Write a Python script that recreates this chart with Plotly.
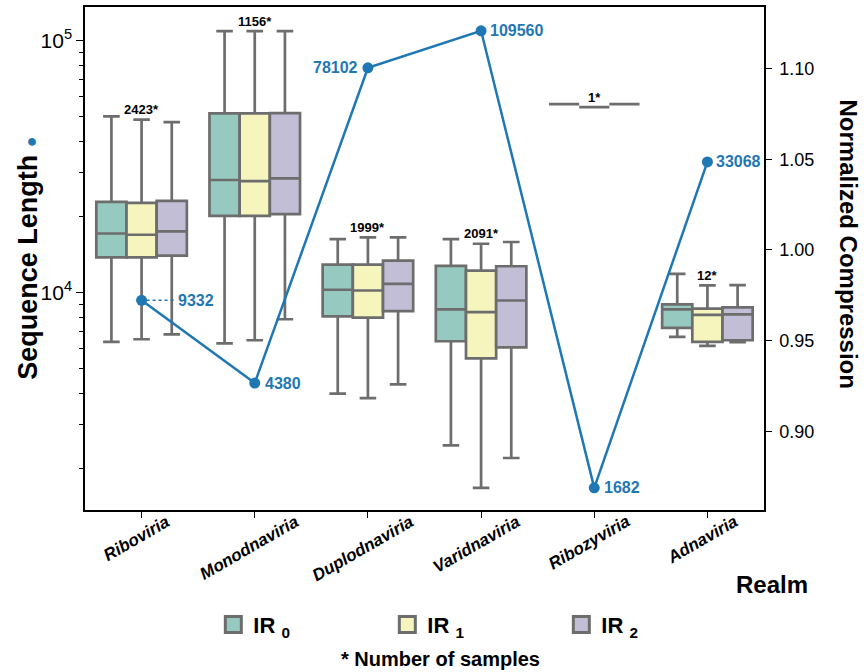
import numpy as np
import plotly.graph_objects as go

# Realms along the x axis
realms = ["Riboviria", "Monodnaviria", "Duplodnaviria", "Varidnaviria", "Ribozyviria", "Adnaviria"]
n_samples = [2423, 1156, 1999, 2091, 1, 12]

# Representative sequence length per realm (blue line)
seq_len = [9332, 4380, 78102, 109560, 1682, 33068]

# Box statistics of sequence length per inverted-repeat level
ir0_upper = [50100, 109200, 16340, 16340, 56050, 11890]
ir0_q3 = [22930, 51490, 12930, 12780, 56050, 8990]
ir0_median = [17190, 28020, 10280, 8590, 56050, 8590]
ir0_q1 = [13820, 20200, 8060, 6420, 56050, 7250]
ir0_lower = [6380, 6300, 3980, 2480, 56050, 6680]

ir1_upper = [48630, 109200, 16580, 15650, 54540, 10690]
ir1_q3 = [22730, 51490, 12930, 12250, 54540, 8650]
ir1_median = [16990, 27760, 10210, 8380, 54540, 8170]
ir1_q1 = [13820, 20200, 7970, 5490, 54540, 6380]
ir1_lower = [6540, 6480, 3820, 1683, 54540, 6160]

ir2_upper = [47590, 109200, 16580, 15900, 56050, 10720]
ir2_q3 = [23140, 51640, 13410, 12740, 56050, 8750]
ir2_median = [17510, 28440, 10850, 9320, 56050, 8210]
ir2_q1 = [14040, 20500, 8460, 6070, 56050, 6480]
ir2_lower = [6840, 7850, 4330, 2210, 56050, 6370]

# Right-hand axis ticks
compression_ticks = [0.90, 0.95, 1.00, 1.05, 1.10]

series_names = ["IR <sub>0</sub>", "IR <sub>1</sub>", "IR <sub>2</sub>"]
fill_colors = ["#96cac1", "#f5f5bd", "#c1bed6"]
edge_color = "#6d6d6d"
blue = "#1f77b4"
font_family = "Liberation Sans, Arial, sans-serif"

stats = [
    (ir0_lower, ir0_q1, ir0_median, ir0_q3, ir0_upper),
    (ir1_lower, ir1_q1, ir1_median, ir1_q3, ir1_upper),
    (ir2_lower, ir2_q1, ir2_median, ir2_q3, ir2_upper),
]

fig = go.Figure()

for name, color, (lo, q1, med, q3, up) in zip(series_names, fill_colors, stats):
    fig.add_trace(go.Box(
        x=realms, lowerfence=lo, q1=q1, median=med, q3=q3, upperfence=up,
        name=name, fillcolor=color, boxpoints=False, whiskerwidth=0.55,
        line=dict(color=edge_color, width=2.7), showlegend=False,
        offsetgroup=name, hoverinfo="skip",
    ))
    # legend swatch
    fig.add_trace(go.Scatter(
        x=[None], y=[None], mode="markers", name=name,
        marker=dict(symbol="square", size=16, color=color,
                    line=dict(color=edge_color, width=3)),
    ))

# Sequence length line
fig.add_trace(go.Scatter(
    x=realms, y=seq_len, mode="lines+markers", showlegend=False,
    line=dict(color=blue, width=2.5), marker=dict(color=blue, size=11),
))

# attach the compression axis
fig.add_trace(go.Scatter(x=[realms[0]], y=[None], yaxis="y2", mode="markers",
                         showlegend=False, hoverinfo="skip"))

annotations = []
label_shift = [34, 8, -8, 7, 8, 7]
for realm, v, sh in zip(realms, seq_len, label_shift):
    annotations.append(dict(
        x=realm, y=np.log10(v), xref="x", yref="y", text=f"<b>{v}</b>",
        showarrow=False, xanchor="left" if sh > 0 else "right", xshift=sh,
        font=dict(color=blue, size=16, family=font_family),
    ))

# sample counts above the boxes
for realm, n, top in zip(realms, n_samples, ir1_upper):
    annotations.append(dict(
        x=realm, y=np.log10(top), xref="x", yref="y", text=f"<b>{n}*</b>",
        showarrow=False, yshift=10, font=dict(color="black", size=13, family=font_family),
    ))

# rotated realm names under the axis
for realm in realms:
    annotations.append(dict(
        x=realm, y=0, xref="x", yref="paper", text=realm, textangle=-30,
        showarrow=False, xanchor="center", yanchor="top", yshift=1, xshift=-5,
        font=dict(size=17, family=font_family, color="black", style="italic", weight="bold"),
    ))

annotations += [
    dict(x=-0.085, y=0.50, xref="paper", yref="paper", textangle=-90,
         xanchor="center", yanchor="middle",
         text="<b>Sequence Length</b> <span style='font-size:18px;color:#1f77b4'>●</span>",
         showarrow=False, font=dict(size=27, color="black", family=font_family)),
    dict(x=1.125, y=0.528, xref="paper", yref="paper", textangle=90,
         xanchor="center", yanchor="middle",
         text="<b>Normalized Compression</b>", showarrow=False,
         font=dict(size=24, color="black", family=font_family)),
    dict(x=0.956, y=-0.149, xref="paper", yref="paper", text="<b>Realm</b>",
         xanchor="left", yanchor="middle",
         showarrow=False, font=dict(size=24, color="black", family=font_family)),
    dict(x=0.523, y=-0.297, xref="paper", yref="paper", text="<b>* Number of samples</b>",
         xanchor="center", yanchor="middle",
         showarrow=False, font=dict(size=20, color="black", family=font_family)),
]

minor_vals = [m * 10 ** e for e in (3, 4, 5) for m in range(2, 10)]

fig.update_layout(
    width=864, height=672,
    margin=dict(l=85, r=100, t=5, b=162),
    paper_bgcolor="white", plot_bgcolor="white",
    boxmode="group", boxgap=0.2, boxgroupgap=0,
    font=dict(family=font_family, color="black"),
    annotations=annotations,
    shapes=[dict(type="line", xref="x", yref="y", xsizemode="pixel", xanchor=0,
                 x0=5, x1=33, y0=seq_len[0], y1=seq_len[0],
                 line=dict(color=blue, width=1.5, dash="dot"))],
    xaxis=dict(
        type="category", categoryorder="array", categoryarray=realms,
        range=[-0.5, 5.5], showline=True, linecolor="black", linewidth=1.5,
        mirror=True, ticks="outside", ticklen=6, tickcolor="black", tickwidth=1.2,
        showticklabels=False, showgrid=False, zeroline=False,
    ),
    yaxis=dict(
        type="log", range=[3.138, 5.134], showline=True, linecolor="black",
        linewidth=1.5, mirror=True, ticks="outside", ticklen=7, tickcolor="black",
        tickwidth=1.2, showgrid=False, zeroline=False,
        tickvals=[1e4, 1e5], ticktext=["10<sup>4</sup>", "10<sup>5</sup>"],
        tickfont=dict(size=21, color="black"),
        minor=dict(tickvals=minor_vals, ticks="outside", ticklen=4,
                   tickcolor="black", tickwidth=1, showgrid=False),
    ),
    yaxis2=dict(
        overlaying="y", side="right", range=[0.8566, 1.134], showline=True,
        linecolor="black", linewidth=1.5, ticks="outside", ticklen=6,
        tickcolor="black", tickwidth=1.2, showgrid=False, zeroline=False,
        tickvals=compression_ticks, tickformat=".2f", ticklabelstandoff=4,
        tickfont=dict(size=18, color="black"),
    ),
    legend=dict(
        orientation="h", x=0.189, y=-0.228, xanchor="left", yanchor="middle",
        entrywidth=129, entrywidthmode="pixels",
        font=dict(size=22, family=font_family, color="black", weight="bold"),
        bgcolor="rgba(0,0,0,0)",
    ),
)

fig.write_html("out.html")
